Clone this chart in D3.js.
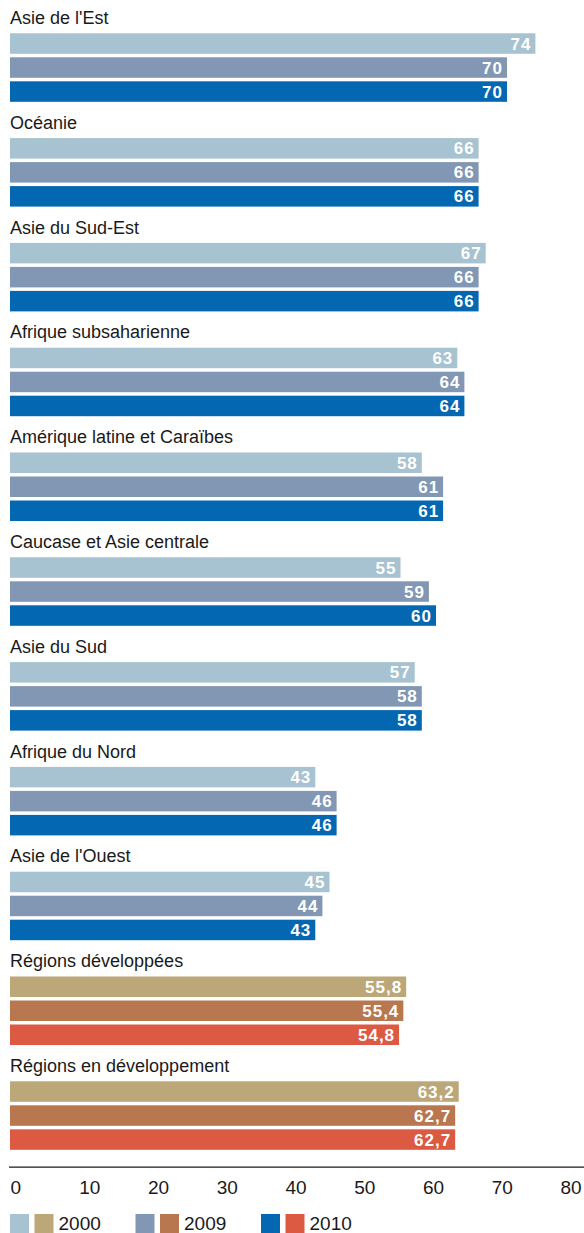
<!DOCTYPE html>
<html>
<head>
<meta charset="utf-8">
<script src="https://cdn.jsdelivr.net/npm/d3@7"></script>
<style>
  html, body { margin: 0; padding: 0; background: #fff; }
  svg { display: block; }
  text { font-family: "Liberation Sans", Arial, sans-serif; }
</style>
</head>
<body>
<div id="chart"></div>
<script>
// ---- Data ----
const categories = [
  "Asie de l'Est",
  "Océanie",
  "Asie du Sud-Est",
  "Afrique subsaharienne",
  "Amérique latine et Caraïbes",
  "Caucase et Asie centrale",
  "Asie du Sud",
  "Afrique du Nord",
  "Asie de l'Ouest",
  "Régions développées",
  "Régions en développement"
];
const years = ["2000", "2009", "2010"];
const values2000 = [74, 66, 67, 63, 58, 55, 57, 43, 45, 55.8, 63.2];
const values2009 = [70, 66, 66, 64, 61, 59, 58, 46, 44, 55.4, 62.7];
const values2010 = [70, 66, 66, 64, 61, 60, 58, 46, 43, 54.8, 62.7];
const aggregate = [false, false, false, false, false, false, false, false, false, true, true];
const tickValues = [0, 10, 20, 30, 40, 50, 60, 70, 80];
const colorsRegion = ["#a7c2d0", "#8197b3", "#0467b1"];
const colorsAggregate = ["#bca779", "#b8774f", "#dd5a42"];

// ---- Layout ----
const W = 584, H = 1233;
const left = 10;
const firstBarTop = 33.3;
const groupStep = 104.8;

const svg = d3.select("#chart").append("svg")
  .attr("width", W).attr("height", H);

const x = d3.scaleLinear().domain([0, 80]).range([left, left + 80 * 7.1]);
const xTicks = d3.scaleLinear().domain([0, 80]).range([left, 560]);

const yGroup = d3.scaleBand().domain(categories)
  .range([firstBarTop, firstBarTop + groupStep * categories.length])
  .paddingInner(0).paddingOuter(0);
const yInner = d3.scaleBand().domain(years).range([0, 68.5]).paddingInner(3.5 / 24).paddingOuter(0);

const fr = d3.formatLocale({ decimal: ",", thousands: " ", grouping: [3], currency: ["", " €"] });
const fmtInt = fr.format("d");
const fmtDec = fr.format(".1f");

const rows = categories.map((c, i) => ({
  cat: c,
  agg: aggregate[i],
  vals: [values2000[i], values2009[i], values2010[i]]
}));

const g = svg.selectAll("g.group").data(rows).join("g")
  .attr("class", "group")
  .attr("transform", d => `translate(0,${yGroup(d.cat)})`);

g.append("text")
  .attr("x", left)
  .attr("y", -9.3)
  .attr("font-size", 18)
  .attr("fill", "#1a1a1a")
  .text(d => d.cat);

const bars = g.selectAll("g.bar").data(d => d.vals.map((v, k) => ({ v, k, agg: d.agg })))
  .join("g").attr("class", "bar");

bars.append("rect")
  .attr("x", x(0))
  .attr("y", d => yInner(years[d.k]))
  .attr("width", d => x(d.v) - x(0))
  .attr("height", yInner.bandwidth())
  .attr("fill", d => (d.agg ? colorsAggregate : colorsRegion)[d.k]);

bars.append("text")
  .attr("x", d => x(d.v) - 4)
  .attr("y", d => yInner(years[d.k]) + yInner.bandwidth() / 2)
  .attr("dy", "0.36em")
  .attr("text-anchor", "end")
  .attr("font-size", 17)
  .attr("font-weight", "bold")
  .attr("letter-spacing", "1px")
  .attr("fill", "#fff")
  .text(d => d.agg ? fmtDec(d.v) : fmtInt(d.v));

// ---- Axis ----
const axisY = 1167.2;
svg.append("line")
  .attr("x1", x(0) - 1).attr("x2", W)
  .attr("y1", axisY).attr("y2", axisY)
  .attr("stroke", "#1a1a1a").attr("stroke-width", 1.3);

const axisG = svg.append("g")
  .attr("transform", `translate(0,${axisY})`)
  .call(d3.axisBottom(xTicks).tickValues(tickValues).tickSize(0).tickPadding(0).tickFormat(fmtInt));
axisG.select(".domain").remove();
axisG.selectAll("text")
  .attr("text-anchor", "start")
  .attr("y", 27)
  .attr("dy", 0)
  .attr("font-size", 19)
  .attr("font-family", "'Liberation Sans', Arial, sans-serif")
  .attr("fill", "#1a1a1a");

// ---- Legend ----
const legendX = d3.scalePoint().domain(years).range([10, 261]);
const lg = svg.selectAll("g.legend").data(years).join("g")
  .attr("class", "legend")
  .attr("transform", d => `translate(${legendX(d)},1214)`);
lg.append("rect").attr("x", 0).attr("y", 0).attr("width", 19).attr("height", 19)
  .attr("fill", (d, i) => colorsRegion[i]);
lg.append("rect").attr("x", 24.5).attr("y", 0).attr("width", 19).attr("height", 19)
  .attr("fill", (d, i) => colorsAggregate[i]);
lg.append("text").attr("x", 48.5).attr("y", 15.5)
  .attr("font-size", 19).attr("fill", "#1a1a1a")
  .text(d => d);
</script>
</body>
</html>
